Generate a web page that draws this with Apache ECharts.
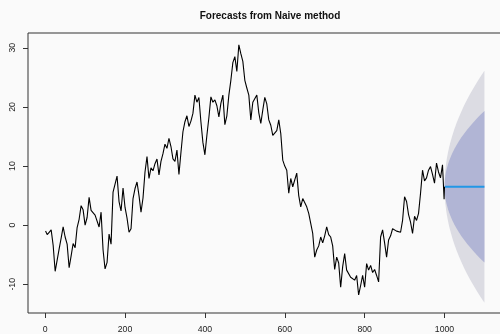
<!DOCTYPE html>
<html>
<head>
<meta charset="utf-8">
<script src="https://cdn.jsdelivr.net/npm/echarts@6/dist/echarts.min.js"></script>
<style>
html,body{margin:0;padding:0;background:#fafafa;overflow:hidden;width:500px;height:334px;}
#c{width:520px;height:334px;}
</style>
</head>
<body>
<div id="c"></div>
<script>
// observed series: value at t=1, then every 5 time units (t = 5, 10, ... 995)
var obsValues = [
 -1.0,-1.6,-1.2,-0.8,-3.4,-7.8,-5.9,-4.0,-2.2,-0.3,
 -2.0,-3.2,-7.2,-5.2,-3.1,-3.8,-0.4,1.0,3.3,2.6,
 0.0,1.3,4.7,2.5,2.3,1.7,2.0,-0.3,2.2,-4.2,
 -7.4,-6.3,-1.5,-3.2,5.6,5.8,8.3,4.0,2.4,6.3,
 3.0,1.2,-1.2,-0.6,4.5,6.2,7.3,5.0,2.2,4.6,
 9.0,11.6,7.9,9.7,9.2,10.4,11.2,8.5,10.8,12.1,
 13.7,13.0,14.7,13.3,11.2,10.8,12.7,8.6,12.3,15.8,
 17.5,18.5,16.7,17.6,18.9,22.0,20.8,21.6,17.5,14.0,
 11.9,15.2,18.2,21.7,20.8,21.2,20.2,18.3,20.6,22.0,
 17.0,18.5,22.0,24.5,27.5,28.5,26.0,30.5,29.0,27.7,
 24.5,23.2,22.0,17.8,20.8,20.5,22.0,19.0,17.2,19.5,
 21.6,20.5,17.8,16.9,15.2,15.0,16.0,17.8,15.5,11.0,
 10.0,9.3,5.4,7.9,6.5,6.2,8.8,5.0,3.1,4.5,
 4.5,3.1,2.0,0.3,-1.4,-5.4,-4.2,-3.5,-2.0,-3.0,
 -1.8,-0.3,-1.6,-2.0,-3.5,-7.5,-5.4,-6.4,-10.5,-7.0,
 -4.8,-7.6,-7.8,-8.8,-9.0,-9.3,-8.5,-11.8,-10.2,-8.5,
 -10.5,-6.5,-7.6,-6.8,-8.0,-7.5,-8.5,-9.6,-2.0,-0.8,
 -3.0,-5.4,-2.5,-1.8,-0.6,-0.3,-1.0,-0.8,-1.2,0.8,
 4.8,4.0,1.8,0.5,-1.4,1.5,0.8,2.0,5.4,9.3,
 7.5,8.0,9.3,9.9,8.6,7.1,10.5,9.0,8.0,10.2
];
var obsStep = 5;
var tailTimes = [999, 1000];
var tailValues = [4.4, 6.5];

// naive forecast: horizons after t=1000, point forecast and interval bounds
var fcStart = 1000;
var fcHorizons = [1,2,4,6,9,12,16,20,25,30,36,42,49,56,64,72,81,90,100];
var fcPoint = 6.5;
var hi80 = [7.78,8.31,9.06,9.64,10.34,10.94,11.63,12.23,12.91,13.52,14.19,14.81,15.47,16.09,16.75,17.37,18.03,18.66,19.32];
var lo80 = [5.22,4.69,3.94,3.36,2.66,2.06,1.37,0.77,0.09,-0.52,-1.19,-1.81,-2.47,-3.09,-3.75,-4.37,-5.03,-5.66,-6.32];
var hi95 = [8.46,9.27,10.42,11.30,12.38,13.29,14.34,15.27,16.30,17.24,18.26,19.20,20.22,21.17,22.18,23.13,24.14,25.09,26.10];
var lo95 = [4.54,3.73,2.58,1.70,0.62,-0.29,-1.34,-2.27,-3.30,-4.24,-5.26,-6.20,-7.22,-8.17,-9.18,-10.13,-11.14,-12.09,-13.10];

var xTicks = [0,200,400,600,800,1000];
var yTicks = [-10,0,10,20,30];
var titleText = 'Forecasts from Naive method';

var obsData = obsValues.map(function(v,i){ return [i===0 ? 1 : i*obsStep, v]; });
for (var k=0;k<tailTimes.length;k++) obsData.push([tailTimes[k], tailValues[k]]);
var fcTimes = fcHorizons.map(function(h){ return fcStart + h; });
var fcLine = [[fcTimes[0], fcPoint],[fcTimes[fcTimes.length-1], fcPoint]];

function bandSeries(hi, lo, color, z){
  return {
    type:'custom', z:z, silent:true, clip:true,
    data:[[fcTimes[0], fcPoint]],
    renderItem:function(params, api){
      var pts = [api.coord([fcStart, fcPoint])];
      for (var i=0;i<fcTimes.length;i++) pts.push(api.coord([fcTimes[i], hi[i]]));
      for (var j=fcTimes.length-1;j>=0;j--) pts.push(api.coord([fcTimes[j], lo[j]]));
      return {type:'polygon', shape:{points:pts}, style:{fill:color, stroke:null}};
    }
  };
}

var chart = echarts.init(document.getElementById('c'), null, {renderer:'canvas'});
var font = 'Liberation Sans, Arial, Helvetica, sans-serif';
chart.setOption({
  backgroundColor:'#fafafa',
  animation:false,
  title:{text:titleText, left:265, top:6, textAlign:'center',
    textStyle:{fontFamily:font, fontSize:10, fontWeight:'bold', color:'#111'}},
  grid:{left:28, top:33, width:474, height:280, show:true, borderColor:'#333', borderWidth:1, backgroundColor:'transparent'},
  xAxis:{type:'value', min:-43, max:1144,
    axisLine:{show:false, onZero:false},
    axisTick:{show:true, inside:false, customValues:xTicks, length:5, lineStyle:{color:'#333'}},
    axisLabel:{customValues:xTicks, margin:12, fontSize:8.7, fontFamily:font, color:'#222',
      formatter:function(v){ return String(v); }},
    splitLine:{show:false}},
  yAxis:{type:'value', min:-14.85, max:32.5,
    axisLine:{show:false, onZero:false},
    axisTick:{show:true, inside:false, customValues:yTicks, length:5, lineStyle:{color:'#333'}},
    axisLabel:{customValues:yTicks, rotate:90, margin:11, fontSize:8.7, fontFamily:font, color:'#222',
      formatter:function(v){ return String(v); }},
    splitLine:{show:false}},
  series:[
    bandSeries(hi95, lo95, '#dcdce3', 1),
    bandSeries(hi80, lo80, '#b1b5d5', 2),
    {type:'line', z:3, data:fcLine, showSymbol:false, lineStyle:{color:'#2297E6', width:2}},
    {type:'line', z:4, data:obsData, showSymbol:false, lineStyle:{color:'#000', width:1.1}}
  ]
});
</script>
</body>
</html>
